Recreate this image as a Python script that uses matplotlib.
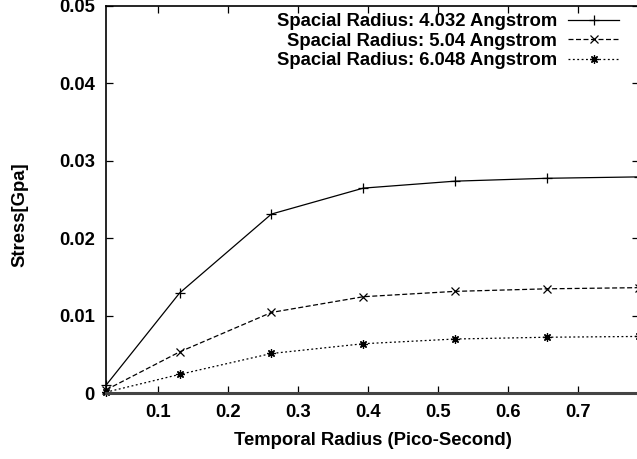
import matplotlib
matplotlib.use("Agg")
import matplotlib.pyplot as plt

plt.rcParams['font.family'] = ['Liberation Sans', 'DejaVu Sans']
plt.rcParams['font.weight'] = 'bold'

# temporal radius (pico-second)
temporal = [0.02625, 0.13125, 0.2625, 0.39375, 0.525, 0.65625, 0.7875]

# stress [Gpa] for each spacial radius
stress_4032 = [0.0010, 0.0129, 0.0231, 0.02645, 0.02735, 0.02772, 0.0279]
stress_504 = [0.0004, 0.0053, 0.0104, 0.01243, 0.01312, 0.01345, 0.0136]
stress_6048 = [0.0001, 0.0024, 0.0051, 0.00636, 0.00697, 0.00720, 0.0073]

labels = ["Spacial Radius: 4.032 Angstrom",
          "Spacial Radius: 5.04 Angstrom",
          "Spacial Radius: 6.048 Angstrom"]

xticks = [0.1, 0.2, 0.3, 0.4, 0.5, 0.6, 0.7]
yticks = [0, 0.01, 0.02, 0.03, 0.04, 0.05]
ytick_labels = ["0", "0.01", "0.02", "0.03", "0.04", "0.05"]

fig = plt.figure(figsize=(6.37, 4.59), dpi=100)
ax = fig.add_axes([106/637, 66/459, 533/637, 387.3/459])

lw = 0.9
ax.plot(temporal, stress_4032, color='black', lw=lw, ls='-',
        marker='+', ms=7, mew=0.9, label=labels[0], clip_on=False)
ax.plot(temporal, stress_504, color='black', lw=lw, ls=(0, (4, 2)),
        marker='x', ms=5.5, mew=0.9, label=labels[1], clip_on=False)
ax.plot(temporal, stress_6048, color='black', lw=lw, ls=(0, (1.5, 2)),
        marker=(8, 2, 0), ms=6, mew=0.9, label=labels[2], clip_on=False)

ax.set_xlim(0.02625, 0.7875)
ax.set_ylim(0, 0.05)
ax.set_xticks(xticks)
ax.set_xticklabels([str(t) for t in xticks])
ax.set_yticks(yticks)
ax.set_yticklabels(ytick_labels)

ax.tick_params(direction='in', length=5, width=0.9, labelsize=13.3,
               top=True, right=True, pad=8)
for s in ['left', 'top', 'right']:
    ax.spines[s].set_linewidth(1.2)
ax.spines['bottom'].set_linewidth(2.2)
ax.spines['bottom'].set_color('#444444')

ax.set_xlabel("Temporal Radius (Pico-Second)", fontsize=13.3, fontweight='bold')
ax.set_ylabel("Stress[Gpa]", fontsize=13.3, fontweight='bold')
ax.xaxis.set_label_coords(0.5, -0.1)
ax.yaxis.set_label_coords(-0.146, 0.46)

leg = ax.legend(loc='upper right', bbox_to_anchor=(0.9625, 0.98),
                markerfirst=False, frameon=False, fontsize=13.3,
                handlelength=2.75, handletextpad=0.6, labelspacing=0.125,
                borderpad=0, borderaxespad=0)

plt.savefig("out.png", dpi=100)
